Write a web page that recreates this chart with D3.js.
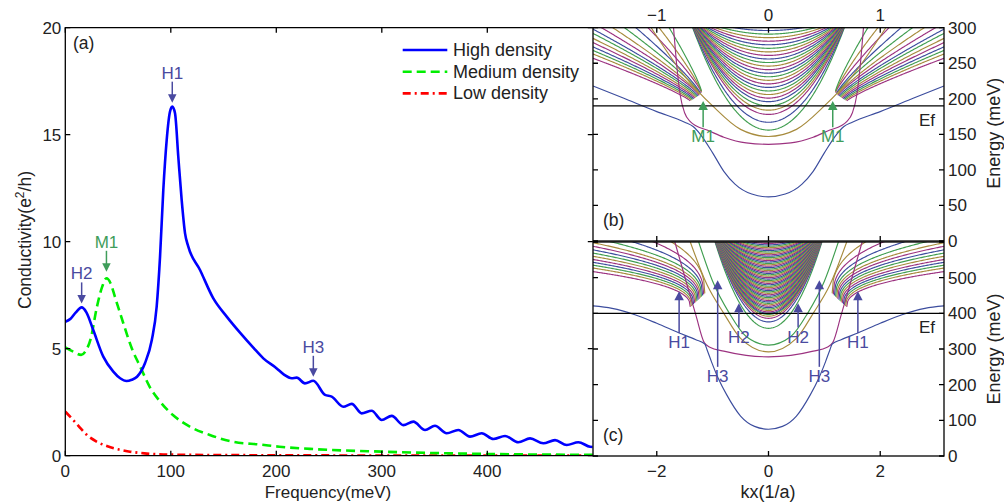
<!DOCTYPE html>
<html><head><meta charset="utf-8">
<script src="https://cdn.jsdelivr.net/npm/d3@7"></script>
<style>
body{margin:0;background:#fff}
svg{display:block}
text{font-family:"Liberation Sans",Arial,Helvetica,sans-serif;fill:#222}
</style>
</head><body>
<svg id="fig" width="1004" height="502"></svg>
<script>
// ---------- (a) optical conductivity vs frequency ----------
const highFreq = [0,5,10,15.5,20,26.5,36,45.5,52,58,63,68,75.5,82,86.6,89.8,92.9,96.1,99.2,101.4,104,107.1,110.3,113.5,116.6,127.7,140.3,153,165.6,178.2,187.7,200.4,207,214.6,219.3,227.2,235.1,246.2,252.5,263.5,271.5,280.9,290.4,299.9,309.4,320.4,329.9,341,350.4,361.5,372.5,383.6,394.7,405.7,416.8,429.4,440.5,453.1,464.2,475.3,486.3,497.4,500];
const highCond = [6.26,6.4,6.7,6.93,6.7,5.87,4.63,3.93,3.62,3.49,3.55,3.69,4.32,5.41,6.96,9.3,12.42,14.75,16.07,16.31,16.0,13.97,11.95,10.39,9.77,8.68,7.35,6.5,5.75,5.05,4.55,4.08,3.8,3.62,3.65,3.38,3.5,2.84,2.76,2.29,2.42,1.98,2.1,1.67,1.86,1.43,1.59,1.2,1.4,1.05,1.2,0.89,1.05,0.78,0.92,0.63,0.81,0.58,0.73,0.5,0.63,0.42,0.41];
const medFreq = [0,8,15,20,24,30,35,39,43,47,55,63,71,80,90,102,118,137,159,185,203,235,300,400,500];
const medCond = [5.06,4.85,4.71,4.95,5.45,6.96,7.9,8.29,8.05,7.43,6.19,5.02,4.16,3.22,2.52,1.9,1.36,0.97,0.65,0.52,0.42,0.31,0.19,0.08,0.04];
const lowFreq = [0,5,10,15,20,30,40,50,60,75,100,150,200,300,400,500];
const lowCond = [2.06,1.8,1.53,1.25,0.99,0.65,0.44,0.3,0.2,0.11,0.05,0.03,0.02,0.01,0.01,0.01];
const seriesNames = ["High density","Medium density","Low density"];
const freqTicks = [0,100,200,300,400];
const condTicks = [0,5,10,15,20];
// peak markers in (a): label, frequency, conductivity at the peak
const peakMarks = [["H1",101.4,16.31],["H2",15.5,6.93],["M1",39,8.29],["H3",235.1,3.5]];

// ---------- (b) subbands, medium density (kx in 1/a, energy in meV) ----------
const bEf = 190;
const bBand1 = [[0,62],[0.15,66],[0.3,80],[0.4,98],[0.5,124],[0.6,148],[0.675,161],[0.75,167],[1.0,182],[1.3,201],[1.5708,218]];
const bBand2 = [[0,136],[0.2,138],[0.4,146],[0.55,156],[0.65,162],[0.7,168],[0.75,180],[0.79,205],[0.82,245],[0.85,300]];
const bWide = [[[0,147],[0.25,157],[0.5,190],[0.75,232],[1.05,300]]];
const bPencilFocus = [0.72,318];
const bPencilBottoms = [156,167,178,184,190,196,201,206,211,216,221,226,231,236,241,246,251,256,261,266,271,276,281,286,291,296];
// outer branches: junction (k, E) with the central bundle and energy at the zone edge
const bFanK = [0.70,0.69,0.68,0.67,0.66,0.65,0.64,0.63,0.62,0.62,0.61,0.61,0.60,0.60,0.60];
const bFanE = [197,198,199,200,201,202,203,204,205,206,207,208,209,210,211];
const bFanEdge = [257,263,268,273,279,285,292,298,307,318,332,350,375,410,460];
const bTicksK = [-1,0,1];
const bTicksE = [0,50,100,150,200,250,300];
// transitions: k, lower energy, upper energy, label
const bArrows = [[-0.585,160,197,"M1"],[0.575,160,197,"M1"]];

// ---------- (c) subbands, high density ----------
const cEf = 400;
const cBand1 = [[0,75],[0.25,83],[0.5,112],[0.75,172],[0.9,218],[1.02,264],[1.1,298],[1.14,314],[1.3,326],[1.6,345],[2.0,372],[2.39,396],[2.8,414],[3.1416,421]];
const cBand2 = [[0,278],[0.4,282],[0.8,294],[1.05,305],[1.15,318],[1.3,395],[1.45,476],[1.66,591],[1.7,613]];
const cWide = [[[0,292],[0.5,330],[0.8,400],[1.1,480],[1.4,600]],[[0,311],[0.4,335],[0.7,400],[1.0,490],[1.25,600]]];
const cPencilFocus = [1.05,650];
const cPencilBottoms = [358,376,386,392,397,400,404,408,412,416,420,424,428,432,436,440,444,448,452,456,460,464,468,472,476,480,484,488,492,496,500,504,508,512,516,520,524,528,532,536,540,544,548,552,556,560,564,568,572,576,580,584,588,592,596];
const cFanK = [1.40,1.38,1.36,1.34,1.32,1.30,1.28,1.26,1.24,1.22,1.20,1.18,1.16,1.14];
const cFanE = [418,420,423,426,429,432,435,438,441,444,447,450,453,456];
const cFanEdge = [517,527,535,543,551,560,569,578,588,598,612,630,655,690];
const cTicksK = [-2,0,2];
const cTicksE = [0,100,200,300,400,500,600];
const cArrows = [[-1.6,345,462,"H1"],[-0.91,250,493,"H3"],[-0.53,360,428,"H2"],[0.53,360,428,"H2"],[0.91,250,493,"H3"],[1.6,345,462,"H1"]];

const bandColors = ["#3c4d9e","#9c3280","#a78b3d","#409e50"];
const hColor = "#4a4aa0", mColor = "#3f9d5a";

// ---------- drawing ----------
const svg = d3.select("#fig");
const A = {l:65.3, r:592.8, t:27.7, b:455.7};
const R = {l:593, r:944};
const B = {t:27.7, b:241};
const C = {t:242, b:456};

const xa = d3.scaleLinear().domain([0,500]).range([A.l,A.r]);
const ya = d3.scaleLinear().domain([0,20]).range([A.b,A.t]);

const defs = svg.append("defs");
function clip(id,x0,y0,x1,y1){defs.append("clipPath").attr("id",id).append("rect").attr("x",x0).attr("y",y0).attr("width",x1-x0).attr("height",y1-y0);}
clip("ca",A.l,A.t,A.r,A.b);
clip("cb",R.l,B.t,R.r,B.b);
clip("cc",R.l,C.t,R.r,C.b);

// spectra
const ga = svg.append("g").attr("clip-path","url(#ca)");
const lineA = d3.line().x(d=>xa(d[0])).y(d=>ya(d[1])).curve(d3.curveMonotoneX);
const specs = [
  {f:highFreq,v:highCond,color:"#0000ff",dash:null},
  {f:medFreq,v:medCond,color:"#00ee00",dash:"9,5"},
  {f:lowFreq,v:lowCond,color:"#ff0000",dash:"8,4,2,4"}];
specs.slice().reverse().forEach(s=>{
  ga.append("path").attr("d",lineA(s.f.map((f,i)=>[f,s.v[i]])))
    .attr("fill","none").attr("stroke",s.color).attr("stroke-width",2.6)
    .attr("stroke-dasharray",s.dash).attr("stroke-linejoin","round");
});

// frame of (a)
const fa = svg.append("g").attr("stroke","#000").attr("stroke-width",1.3).attr("fill","none");
fa.append("path").attr("d",`M${A.r},${A.t}H${A.l}V${A.b}H${A.r}`);
freqTicks.forEach(t=>{fa.append("path").attr("d",`M${xa(t)},${A.b}v-5M${xa(t)},${A.t}v5`);});
condTicks.forEach(t=>{fa.append("path").attr("d",`M${A.l},${ya(t)}h5M${A.r},${ya(t)}h-5`);});
freqTicks.forEach(t=>svg.append("text").attr("x",xa(t)).attr("y",A.b+21.5).attr("text-anchor","middle").attr("font-size",17).text(t));
condTicks.forEach(t=>svg.append("text").attr("x",A.l-4).attr("y",ya(t)+6).attr("text-anchor","end").attr("font-size",17).text(t));
svg.append("text").attr("x",328).attr("y",497.5).attr("text-anchor","middle").attr("font-size",17).text("Frequency(meV)");
const yl = svg.append("text").attr("transform",`translate(31,240) rotate(-90)`).attr("text-anchor","middle").attr("font-size",17.5);
yl.append("tspan").text("Conductivity(e");
yl.append("tspan").attr("font-size",12).attr("dy",-7).text("2");
yl.append("tspan").attr("dy",7).text("/h)");
svg.append("text").attr("x",73).attr("y",49).attr("font-size",17.5).text("(a)");

// legend
seriesNames.forEach((n,i)=>{
  const y = 50 + i*21.7;
  svg.append("line").attr("x1",402.7).attr("x2",447.3).attr("y1",y).attr("y2",y)
    .attr("stroke",specs[i].color).attr("stroke-width",2.6).attr("stroke-dasharray",specs[i].dash);
  svg.append("text").attr("x",453).attr("y",y+5.8).attr("font-size",18).text(n);
});

function arrow(g,x,yTail,yTip,color,dir,w,h){
  g.append("line").attr("x1",x).attr("x2",x).attr("y1",yTail).attr("y2",yTip-dir*(h-2))
    .attr("stroke",color).attr("stroke-width",1.5);
  g.append("path").attr("d",`M${x},${yTip}L${x-w/2},${yTip-dir*h}L${x+w/2},${yTip-dir*h}Z`).attr("fill",color);
}
peakMarks.forEach(([lab,f,v])=>{
  const col = lab[0]==="M" ? mColor : hColor;
  const x = xa(f), tip = ya(v) - (lab==="M1"?6.5:4);
  arrow(svg,x,tip-21,tip,col,1,8.5,8.5);
  svg.append("text").attr("x",x).attr("y",tip-24).attr("text-anchor","middle").attr("font-size",17).style("fill",col).text(lab);
});

// ---------- band panels ----------
function mirror(pts){
  const neg = pts.filter(p=>p[0]>0).map(p=>[-p[0],p[1]]).reverse();
  return neg.concat(pts);
}
function drawPanel(cfg){
  const x = d3.scaleLinear().domain(cfg.kDom).range([R.l,R.r]);
  const y = d3.scaleLinear().domain(cfg.eDom).range([cfg.box.b,cfg.box.t]);
  svg.append("rect").attr("x",R.l).attr("y",cfg.box.t).attr("width",R.r-R.l).attr("height",cfg.box.b-cfg.box.t).attr("fill","#fff");
  const g = svg.append("g").attr("clip-path",`url(#${cfg.clip})`).attr("fill","none").attr("stroke-width",1.15);
  const line = d3.line().x(d=>x(d[0])).y(d=>y(d[1])).curve(d3.curveMonotoneX);
  const lin = d3.line().x(d=>x(d[0])).y(d=>y(d[1]));
  const kMax = cfg.kDom[1];
  // outer branches from the junction with the central bundle out to the zone edge
  cfg.fanEdge.forEach((Ee,i)=>{
    const kj = cfg.fanK[i], Ej = cfg.fanE[i];
    const pts = d3.range(0,1.0001,0.01).map(t=>[kj+(kMax-kj)*t, Ej+(Ee-Ej)*cfg.fanShape(t)]);
    const col = bandColors[(i+1)%4];
    g.append("path").attr("d",lin(pts)).attr("stroke",col);
    g.append("path").attr("d",lin(pts.map(p=>[-p[0],p[1]]))).attr("stroke",col);
  });
  // pencil of central subbands
  const [kf,Efc] = cfg.focus;
  cfg.pencil.forEach((b,i)=>{
    const pts = d3.range(-1.3,1.3001,0.01).map(t=>[t*kf, b+(Efc-b)*t*t]);
    g.append("path").attr("d",lin(pts)).attr("stroke",bandColors[(i+3)%4]);
  });
  cfg.wide.forEach((w,i)=>g.append("path").attr("d",line(mirror(w))).attr("stroke",bandColors[2+(i%2)]));
  g.append("path").attr("d",line(mirror(cfg.band2))).attr("stroke",bandColors[1]);
  g.append("path").attr("d",line(mirror(cfg.band1))).attr("stroke",bandColors[0]);
  // Fermi level
  svg.append("line").attr("x1",R.l).attr("x2",R.r).attr("y1",y(cfg.ef)).attr("y2",y(cfg.ef)).attr("stroke","#000").attr("stroke-width",1.4);
  svg.append("text").attr("x",935).attr("y",y(cfg.ef)+20).attr("text-anchor","end").attr("font-size",17).text("Ef");
  // frame and ticks
  const f = svg.append("g").attr("stroke","#000").attr("stroke-width",1.3).attr("fill","none");
  f.append("rect").attr("x",R.l).attr("y",cfg.box.t).attr("width",R.r-R.l).attr("height",cfg.box.b-cfg.box.t);
  cfg.ticksK.forEach(t=>f.append("path").attr("d",`M${x(t)},${cfg.box.b}v-5M${x(t)},${cfg.box.t}v5`));
  cfg.ticksE.forEach(t=>f.append("path").attr("d",`M${R.l},${y(t)}h5M${R.r},${y(t)}h-5`));
  cfg.ticksE.forEach(t=>{ if(t<=cfg.eLabelMax) svg.append("text").attr("x",948).attr("y",y(t)+6).attr("font-size",17).text(t); });
  svg.append("text").attr("x",603).attr("y",cfg.box.b-15).attr("font-size",17.5).text(cfg.tag);
  const ey = (cfg.box.t+cfg.box.b)/2 + cfg.eShift;
  svg.append("text").attr("transform",`translate(1000,${ey}) rotate(-90)`).attr("text-anchor","middle").attr("font-size",18).text("Energy (meV)");
  // transitions
  cfg.arrows.forEach(([k,e0,e1,lab])=>{
    const col = lab[0]==="M" ? mColor : hColor;
    arrow(svg,x(k),y(e0),y(e1),col,-1,9.5,9);
    svg.append("text").attr("x",x(k)).attr("y",y(e0)+15).attr("text-anchor","middle").attr("font-size",17).style("fill",col).text(lab);
  });
  return x;
}
const xb = drawPanel({kDom:[-Math.PI/2,Math.PI/2],eDom:[0,300],box:B,clip:"cb",ef:bEf,
  band1:bBand1,band2:bBand2,wide:bWide,focus:bPencilFocus,pencil:bPencilBottoms,
  fanK:bFanK,fanE:bFanE,fanEdge:bFanEdge,fanShape:t=>Math.pow(t,0.85),ticksK:bTicksK,ticksE:bTicksE,eLabelMax:300,
  tag:"(b)",eShift:-1,arrows:bArrows});
const xc = drawPanel({kDom:[-Math.PI,Math.PI],eDom:[0,600],box:C,clip:"cc",ef:cEf,
  band1:cBand1,band2:cBand2,wide:cWide,focus:cPencilFocus,pencil:cPencilBottoms,
  fanK:cFanK,fanE:cFanE,fanEdge:cFanEdge,fanShape:t=>Math.pow(t,0.4),ticksK:cTicksK,ticksE:cTicksE,eLabelMax:500,
  tag:"(c)",eShift:0,arrows:cArrows});
bTicksK.forEach(t=>svg.append("text").attr("x",xb(t)).attr("y",21).attr("text-anchor","middle").attr("font-size",17).text(t<0?"\u2212"+(-t):t));
cTicksK.forEach(t=>svg.append("text").attr("x",xc(t)).attr("y",477).attr("text-anchor","middle").attr("font-size",17).text(t<0?"\u2212"+(-t):t));
svg.append("text").attr("x",768).attr("y",497.5).attr("text-anchor","middle").attr("font-size",18).text("kx(1/a)");
</script>
</body></html>
